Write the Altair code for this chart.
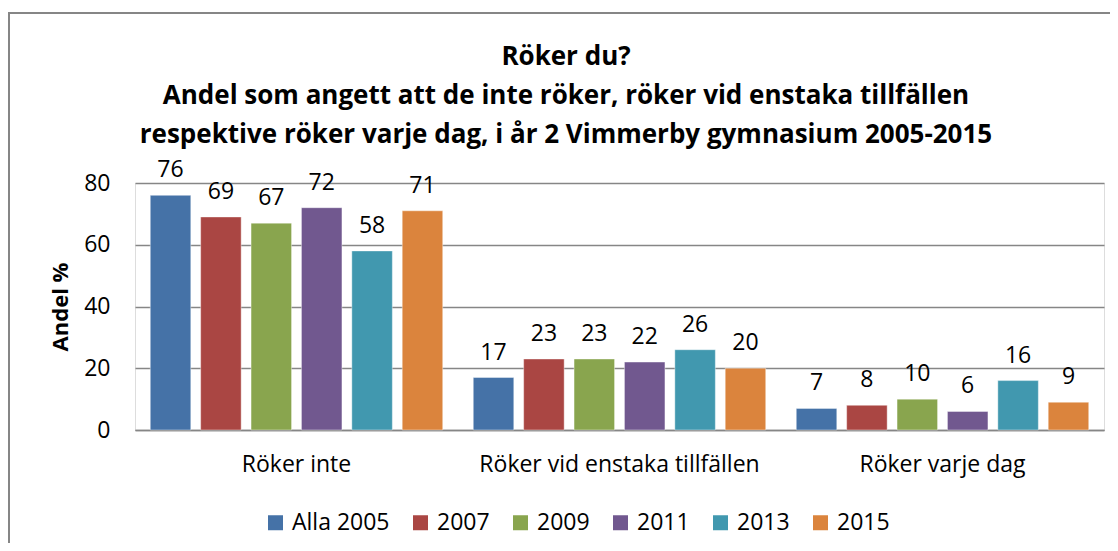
import altair as alt
import pandas as pd

categories = ["Röker inte", "Röker vid enstaka tillfällen", "Röker varje dag"]
series = ["Alla 2005", "2007", "2009", "2011", "2013", "2015"]
values = {
    "Alla 2005": [76, 17, 7],
    "2007": [69, 23, 8],
    "2009": [67, 23, 10],
    "2011": [72, 22, 6],
    "2013": [58, 26, 16],
    "2015": [71, 20, 9],
}
colors = ["#4572A7", "#AA4643", "#89A54E", "#71588F", "#4198AF", "#DB843D"]
y_ticks = [0, 20, 40, 60, 80]
title_lines = [
    "Röker du?",
    "Andel som angett att de inte röker, röker vid enstaka tillfällen",
    "respektive röker varje dag, i år 2 Vimmerby gymnasium 2005-2015",
]

rows = []
for s in series:
    for c, v in zip(categories, values[s]):
        rows.append({"cat": c, "series": s, "value": v})
df = pd.DataFrame(rows)

FONT = "Open Sans"
FS = 23
W, H = 969, 247

x_enc = alt.X(
    "cat:N", sort=categories, title=None,
    scale=alt.Scale(paddingInner=0, paddingOuter=0),
    axis=alt.Axis(labelAngle=0, ticks=False, labelPadding=23, labelFontSize=FS,
                  labelFont=FONT, labelColor="#000000", domainColor="#868686",
                  domainWidth=1.5, labelLimit=0),
)
xo_enc = alt.XOffset("series:N", sort=series,
                     scale=alt.Scale(paddingInner=0.196, paddingOuter=0.303))
y_enc = alt.Y(
    "value:Q", title="Andel %",
    scale=alt.Scale(domain=[0, 80], nice=False),
    axis=alt.Axis(values=y_ticks, ticks=False, domain=False, labelPadding=25,
                  labelFontSize=FS, labelFont=FONT, labelColor="#000000",
                  gridColor="#868686", gridWidth=1.5,
                  titleFont=FONT, titleFontSize=22, titleFontWeight="bold",
                  titleColor="#000000", titleX=-63, titleBaseline="bottom"),
)

bars = alt.Chart(df).mark_bar(stroke="#ffffff", strokeWidth=0.8, strokeOpacity=0.5).encode(
    x=x_enc, xOffset=xo_enc, y=y_enc,
    color=alt.Color(
        "series:N", sort=series,
        scale=alt.Scale(domain=series, range=colors),
        legend=alt.Legend(
            title=None, orient="none", direction="horizontal",
            legendX=129, legendY=328, symbolType="square", symbolSize=225,
            symbolStrokeWidth=0, labelFontSize=FS, labelFont=FONT,
            labelColor="#000000", columnPadding=19, labelOffset=5,
        ),
    ),
)

labels = alt.Chart(df).mark_text(
    baseline="alphabetic", dy=-18, fontSize=FS, font=FONT, color="#000000"
).encode(x=x_enc, xOffset=xo_enc, y=y_enc, text=alt.Text("value:Q"))

title_df = pd.DataFrame({"t": ["\n".join(title_lines)]})
title = alt.Chart(title_df).mark_text(
    lineBreak="\n", lineHeight=39, fontSize=26, fontWeight="bold", font=FONT,
    color="#000000", align="center", baseline="alphabetic",
).encode(x=alt.value(431), y=alt.value(-118), text="t:N")

frame = alt.Chart(alt.Data(values=[{"a": 1}])).mark_rect(
    fill=None, stroke="#868686", strokeWidth=2
).encode(
    x=alt.value(-126), x2=alt.value(1020),
    y=alt.value(-170), y2=alt.value(420),
)

chart = alt.layer(frame, title, bars, labels).properties(
    width=W, height=H,
    autosize=alt.AutoSizeParams(type="none"),
    padding={"left": 127, "top": 175, "right": 6, "bottom": 113},
).configure_view(stroke=None).configure(background="#ffffff")

chart.save("out.html", embed_options={"renderer": "svg", "actions": False})
